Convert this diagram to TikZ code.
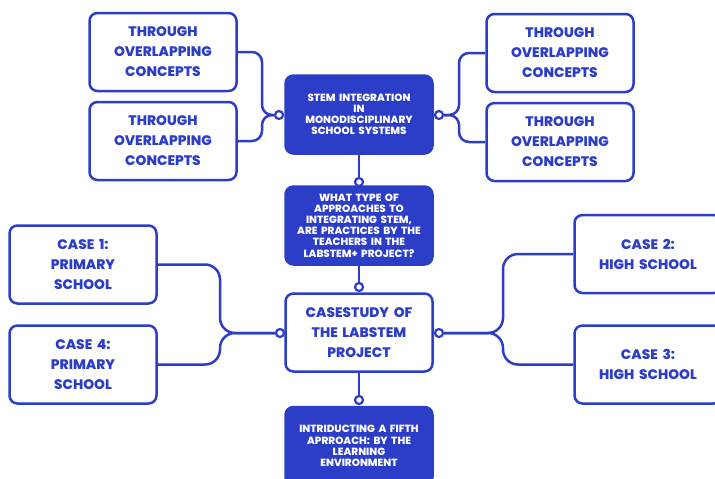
\documentclass[tikz,border=0pt]{standalone}
\usepackage{fontspec}
\setmainfont{Poppins}[BoldFont={Poppins ExtraBold}]
\usepackage{tikz}
\usetikzlibrary{arrows,positioning}
\definecolor{blu}{RGB}{44,62,200}

\begin{document}
\begin{tikzpicture}[x=1pt,y=-1pt]
\tikzstyle{box}=[rectangle,draw=blu,line width=2.5pt,rounded corners=8pt,fill=white,text=blu,minimum width=147pt,minimum height=78pt,inner sep=0pt,text width=140pt,align=center,font=\fontsize{13.8}{20}\selectfont\bfseries]
\tikzstyle{dark}=[box,fill=blu,text=white,font=\fontsize{10.4}{11.2}\selectfont\bfseries]
\tikzstyle{dot}=[circle,draw=blu,line width=2.2pt,fill=white,minimum size=8pt,inner sep=0pt]
\tikzstyle{link}=[draw=blu,line width=2.5pt,rounded corners=10pt]
\tikzstyle{caselink}=[link,rounded corners=15pt]

\useasboundingbox (0,0) rectangle (715,479);
\clip (0,0) rectangle (715,479);

\node[box] (tl1) at (163,52) {THROUGH\\OVERLAPPING\\CONCEPTS};
\node[box] (tl2) at (163,141) {THROUGH\\OVERLAPPING\\CONCEPTS};
\node[box] (tr1) at (560,53) {THROUGH\\OVERLAPPING\\CONCEPTS};
\node[box] (tr2) at (560,142) {THROUGH\\OVERLAPPING\\CONCEPTS};

\node[dark] (stem) at (359,114.5) {STEM INTEGRATION\\IN\\MONODISCIPLINARY\\SCHOOL SYSTEMS};
\node[dark] (quest) at (359,225.5) {WHAT TYPE OF\\APPROACHES TO\\INTEGRATING STEM,\\ARE PRACTICES BY THE\\TEACHERS IN THE\\LABSTEM+ PROJECT?};
\node[box] (study) at (359,332.5) {CASESTUDY OF\\THE LABSTEM\\PROJECT};
\node[dark] (fifth) at (359,446) {INTRIDUCTING A FIFTH\\APRROACH: BY THE\\LEARNING\\ENVIRONMENT};

\node[box] (case1) at (83,264.5) {CASE 1:\\PRIMARY\\SCHOOL};
\node[box] (case4) at (83,364.5) {CASE 4:\\PRIMARY\\SCHOOL};
\node[box] (case2) at (648,254) {CASE 2:\\HIGH SCHOOL};
\node[box] (case3) at (648,364.5) {CASE 3:\\HIGH SCHOOL};

\node[dot] (dl) at (279,115) {};
\node[dot] (dr) at (439,115) {};
\node[dot] (dq) at (359,182) {};
\node[dot] (ds) at (359,287) {};
\node[dot] (df) at (359,400) {};
\node[dot] (dsl) at (280,333) {};
\node[dot] (dsr) at (439,333) {};

\coordinate (jl) at (262,115);
\coordinate (jr) at (459,115);
\coordinate (jcl) at (220,333);
\coordinate (jcr) at (503,333);

\draw[link] (tl1.east) -| (jl) -- (dl.west);
\draw[link] (tl2.east) -| (jl) -- (dl.west);
\draw[link] (tr1.west) -| (jr) -- (dr.east);
\draw[link] (tr2.west) -| (jr) -- (dr.east);
\draw[caselink] (case1.east) -| (jcl) -- (dsl.west);
\draw[caselink] (case4.east) -| (jcl) -- (dsl.west);
\draw[caselink] (case2.west) -| (jcr) -- (dsr.east);
\draw[caselink] (case3.west) -| (jcr) -- (dsr.east);

\draw[link] (stem.south) -- (dq.north);
\draw[link] (quest.south) -- (ds.north);
\draw[link] (study.south) -- (df.north);
\end{tikzpicture}
\end{document}
